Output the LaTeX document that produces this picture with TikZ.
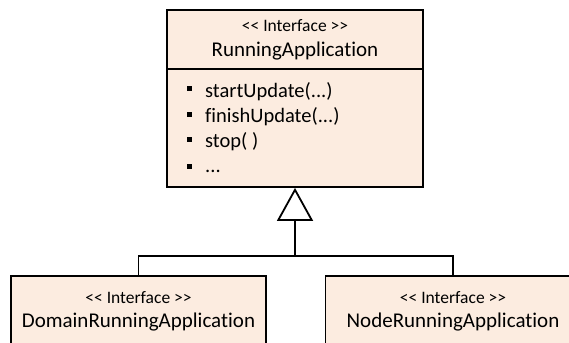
\documentclass[tikz,border=0pt]{standalone}
\usepackage{fontspec}
\newfontfamily\umlfont{Carlito}[Ligatures=NoCommon]
\usetikzlibrary{arrows.meta}
\definecolor{peach}{RGB}{252,236,224}
\tikzset{
  umlbox/.style={draw=black, fill=peach, line width=1.8pt, inner sep=0pt},
  stereo/.style={anchor=base, inner sep=0pt, font=\umlfont\fontsize{17.5}{20}\selectfont},
  cname/.style={anchor=base, inner sep=0pt, font=\umlfont\fontsize{21}{24}\selectfont},
  meth/.style={anchor=base west, inner sep=0pt, font=\umlfont\fontsize{20.5}{24}\selectfont},
  bulletmark/.style={fill=black, inner sep=0pt, minimum size=5pt},
  link/.style={draw=black, line width=1.8pt},
  inherit/.style={link, -{Triangle[open, length=33pt, width=36pt]}}
}
\begin{document}
\begin{tikzpicture}[x=1pt, y=-1pt]
  \useasboundingbox (0,0) rectangle (569,342);
  \clip (0,0) rectangle (569,342);

  % interface RunningApplication: header and operations compartment
  \node[umlbox, minimum width=256pt, minimum height=59pt] (head) at (295,39.5) {};
  \node[umlbox, minimum width=256pt, minimum height=118pt] (ops) at (295,128) {};
  \node[stereo] (headst) at (295,32) {<< Interface >>};
  \node[cname] (headnm) at (295,57) {RunningApplication};

  \node[bulletmark] (b1) at (189.5,89) {};
  \node[bulletmark] (b2) at (189.5,114) {};
  \node[bulletmark] (b3) at (189.5,139) {};
  \node[bulletmark] (b4) at (189.5,166) {};
  \node[meth] (m1) at (205,97) {startUpdate(...)};
  \node[meth] (m2) at (205,122) {finishUpdate(...)};
  \node[meth] (m3) at (205,147) {stop( )};
  \node[meth] (m4) at (205,172) {...};

  % sub-interfaces
  \node[umlbox, minimum width=255pt, minimum height=100pt] (dom) at (138.5,326) {};
  \node[stereo] (domst) at (138.5,303) {<< Interface >>};
  \node[cname] (domnm) at (138.5,327) {DomainRunningApplication};

  \node[umlbox, minimum width=255pt, minimum height=100pt] (nra) at (453,326) {};
  \node[stereo] (nrast) at (453,303) {<< Interface >>};
  \node[cname] (nranm) at (453,327) {NodeRunningApplication};

  % generalisation tree
  \coordinate (joint) at (295,256);
  \draw[link] (dom.north) |- (joint);
  \draw[link] (nra.north) |- (joint);
  \draw[inherit] (joint) -- (ops.south);
\end{tikzpicture}
\end{document}
